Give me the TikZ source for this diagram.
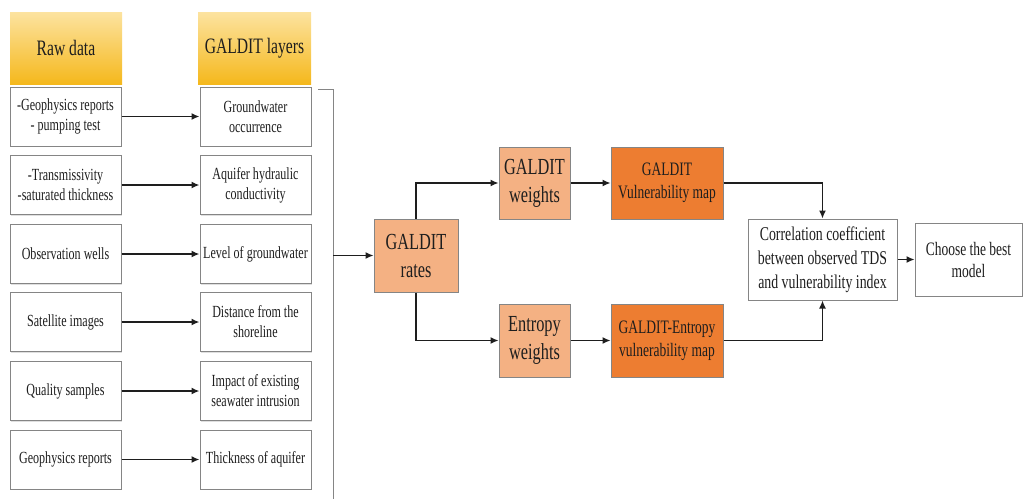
\documentclass[tikz,border=0pt]{standalone}
\usepackage{fontspec}
\setmainfont{Liberation Serif}[FakeStretch=0.71]
\usetikzlibrary{arrows.meta,shadows}

\definecolor{boxgray}{HTML}{858585}
\definecolor{textdark}{HTML}{1E1E1E}
\definecolor{lightorange}{HTML}{F4B183}
\definecolor{darkorange}{HTML}{ED7D31}
\definecolor{headtop}{HTML}{FCE3A0}
\definecolor{headbot}{HTML}{F5B81C}

\begin{document}
\begin{tikzpicture}[x=1pt,y=-1pt,
  box/.style={rectangle, draw=boxgray, line width=1pt, fill=white, align=center, inner sep=1pt, text=textdark,
    drop shadow={shadow xshift=1.2pt, shadow yshift=-1.2pt, opacity=0.25}},
  small/.style={box, minimum width=111pt, minimum height=59pt, font=\fontsize{17}{20}\selectfont},
  header/.style={rectangle, top color=headtop, bottom color=headbot, align=center, text=textdark,
    minimum height=72pt, font=\fontsize{22}{25}\selectfont},
  weight/.style={box, fill=lightorange, minimum height=72pt, font=\fontsize{23}{28}\selectfont},
  vmap/.style={box, fill=darkorange, minimum width=112pt, minimum height=72pt, font=\fontsize{19}{23}\selectfont},
  arr/.style={draw=textdark, line width=1.3pt, -{Latex[length=8pt,width=7pt]}},
  bracket/.style={draw=boxgray, line width=1pt}]
\useasboundingbox (0,0) rectangle (1024,499);

% column headers
\node[header, minimum width=112pt] (rawhead) at (66,48) {Raw data};
\node[header, minimum width=113pt] (layhead) at (254.5,48) {GALDIT layers};

% raw data and layers
\foreach \i/\yc/\rawtext/\laytext in {
  1/116.5/{-Geophysics reports\\ - pumping test}/{Groundwater\\ occurrence},
  2/185/{-Transmissivity\\ -saturated thickness}/{Aquifer hydraulic\\ conductivity},
  3/254/{Observation wells}/{Level of groundwater},
  4/322/{Satellite images}/{Distance from the\\ shoreline},
  5/391/{Quality samples}/{Impact of existing\\ seawater intrusion},
  6/459.5/{Geophysics reports}/{Thickness of aquifer}} {
  \node[small] (raw\i) at (65.5,\yc) {\rawtext};
  \node[small] (lay\i) at (255.5,\yc) {\laytext};
  \draw[arr, line width=1.6pt] (raw\i) -- (lay\i);
}

% collecting line
\coordinate (brtop) at (318,89);
\coordinate (brcorner) at (333,89);
\coordinate (brbot) at (333,499);
\coordinate (brmid) at (333,255.5);
\draw[bracket] (brtop) -- (brcorner) -- (brbot);

% weighting branches
\node[weight, minimum width=84pt, minimum height=73pt] (rates) at (416,255.5) {GALDIT\\ rates};
\node[weight, minimum width=71pt] (gweights) at (534.5,183) {GALDIT\\ weights};
\node[weight, minimum width=71pt, minimum height=73pt] (eweights) at (534.5,340.5) {Entropy\\ weights};
\node[vmap] (gmap) at (667,183) {GALDIT\\ Vulnerability map};
\node[vmap, minimum height=73pt] (emap) at (667,340.5) {GALDIT-Entropy\\ vulnerability map};

\node[box, minimum width=149pt, minimum height=81pt, font=\fontsize{19.5}{24}\selectfont] (corr) at (822.5,259.5)
  {Correlation coefficient\\ between observed TDS\\ and vulnerability index};
\node[box, minimum width=107pt, minimum height=73pt, font=\fontsize{19}{22}\selectfont] (best) at (968.5,259.5)
  {Choose the best\\ model};

\draw[arr] (brmid) -- (rates.west);
\draw[arr] (rates.north) |- (gweights.west);
\draw[arr] (rates.south) |- (eweights.west);
\draw[arr] (gweights) -- (gmap);
\draw[arr] (eweights) -- (emap);
\draw[arr] (gmap.east) -| (corr.north);
\draw[arr] (emap.east) -| (corr.south);
\draw[arr] (corr) -- (best);
\end{tikzpicture}
\end{document}
